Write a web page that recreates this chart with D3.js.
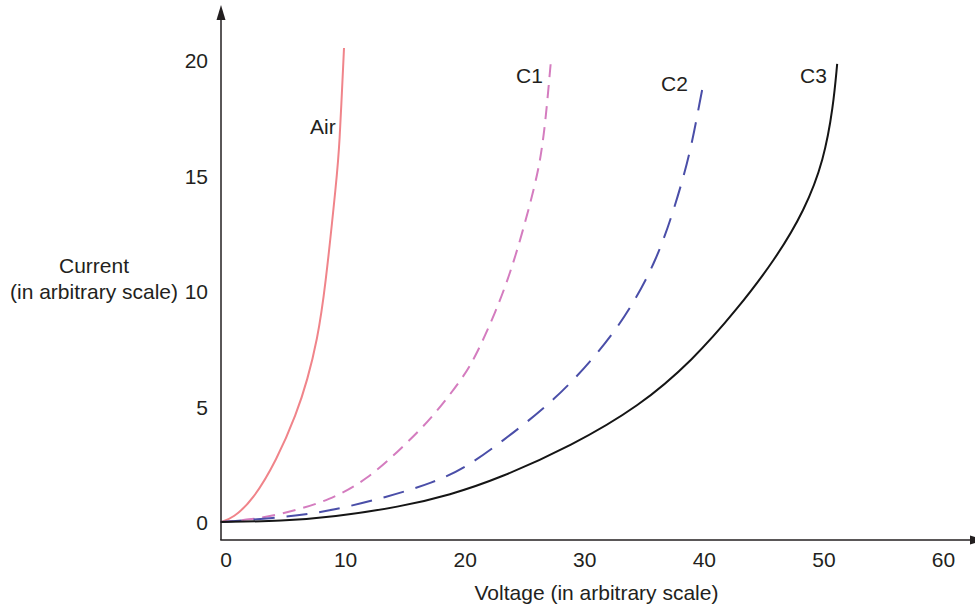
<!DOCTYPE html>
<html>
<head>
<meta charset="utf-8">
<script src="https://cdn.jsdelivr.net/npm/d3@7"></script>
<style>
  html, body { margin: 0; padding: 0; background: #fff; }
  svg { display: block; }
  text { font-family: "Liberation Sans", Arial, Helvetica, sans-serif; fill: #231f20; }
</style>
</head>
<body>
<svg id="chart" width="975" height="606"></svg>
<script>
// Current–voltage characteristics (arbitrary units)
const xTicks = [0, 10, 20, 30, 40, 50, 60];
const yTicks = [0, 5, 10, 15, 20];

const airVoltage = [-0.4, 0.63, 2.30, 4.28, 5.95, 6.85, 7.67, 8.32, 9.32, 9.51, 9.91];
const airCurrent = [0, 0.17, 0.95, 2.68, 4.7, 6.15, 7.88, 10.0, 15.0, 16.1, 20.52];

const c1Voltage = [-0.4, 2.05, 5.12, 8.74, 11.81, 14.84, 17.35, 19.7, 20.78, 22.68, 24.21, 26.02, 26.44, 26.77, 27.19];
const c1Current = [0, 0.09, 0.39, 0.95, 1.82, 3.25, 4.55, 6.15, 7.01, 9.18, 11.34, 14.81, 16.1, 17.4, 19.83];

const c2Voltage = [-0.4, 5.39, 8.99, 13.48, 17.35, 20.17, 22.95, 27.6, 31.4, 33.82, 36.05, 37.5, 38.84, 39.7, 40.05];
const c2Current = [0, 0.22, 0.5, 1.08, 1.69, 2.38, 3.42, 5.28, 7.45, 9.18, 11.34, 13.51, 15.9, 18.3, 19.2];

const c3Voltage = [-0.4, 4.81, 8.99, 14.59, 18.77, 22.95, 28.94, 34.6, 39.09, 42.74, 45.94, 48.45, 50.04, 50.82, 51.15];
const c3Current = [0, 0.04, 0.22, 0.65, 1.17, 1.90, 3.3, 5.0, 7.01, 9.18, 11.34, 13.51, 15.67, 17.98, 19.83];

const seriesNames = ["Air", "C1", "C2", "C3"];

const series = [
  { name: seriesNames[0], v: airVoltage, c: airCurrent, color: "#f0848a", dash: null, label: [310, 134] },
  { name: seriesNames[1], v: c1Voltage, c: c1Current, color: "#d47cbf", dash: "13 8", label: [516, 83] },
  { name: seriesNames[2], v: c2Voltage, c: c2Current, color: "#4a4ea8", dash: "21 12", label: [661, 91] },
  { name: seriesNames[3], v: c3Voltage, c: c3Current, color: "#151515", dash: null, label: [800, 83] }
];

const svg = d3.select("#chart");
const ink = "#231f20";
const fontSize = 21;

const x = d3.scaleLinear().domain([0, 60]).range([225.5, 943]);
const y = d3.scaleLinear().domain([0, 20]).range([522, 60]);

const axisX = 221;   // position of the vertical axis line
const axisY = 540;   // position of the horizontal axis line

// Tick labels through d3 axes (no tick marks, no domain path)
const gx = svg.append("g")
  .attr("transform", `translate(0,${axisY})`)
  .call(d3.axisBottom(x).tickValues(xTicks).tickSize(0).tickPadding(12).tickFormat(d3.format("d")));
gx.select(".domain").remove();
gx.selectAll("text").attr("font-size", fontSize).attr("fill", ink)
  .style("font-family", "'Liberation Sans', Arial, sans-serif");

const gy = svg.append("g")
  .attr("transform", `translate(${axisX},0)`)
  .call(d3.axisLeft(y).tickValues(yTicks).tickSize(0).tickPadding(13).tickFormat(d3.format("d")));
gy.select(".domain").remove();
gy.selectAll("text").attr("font-size", fontSize).attr("fill", ink).attr("dy", "0.36em")
  .style("font-family", "'Liberation Sans', Arial, sans-serif");

// Curves (smoothed B-spline through the read-off points)
const line = d3.line()
  .x(d => x(d[0]))
  .y(d => y(d[1]))
  .curve(d3.curveBasis);

svg.append("g")
  .selectAll("path")
  .data(series)
  .join("path")
  .attr("d", s => line(s.v.map((v, i) => [v, s.c[i]])))
  .attr("fill", "none")
  .attr("stroke", s => s.color)
  .attr("stroke-width", 2)
  .attr("stroke-dasharray", s => s.dash)
  .attr("stroke-linecap", "butt");

// Curve names
svg.append("g")
  .selectAll("text")
  .data(series)
  .join("text")
  .attr("x", s => s.label[0])
  .attr("y", s => s.label[1])
  .attr("font-size", fontSize)
  .text(s => s.name);

// Axis lines with arrowheads
svg.append("line")
  .attr("x1", axisX).attr("y1", axisY)
  .attr("x2", axisX).attr("y2", 14)
  .attr("stroke", ink).attr("stroke-width", 1.5);
svg.append("path")
  .attr("d", `M${axisX},5 L${axisX - 4.5},20 L${axisX + 4.5},20 Z`)
  .attr("fill", ink);

svg.append("line")
  .attr("x1", axisX - 0.75).attr("y1", axisY)
  .attr("x2", 975).attr("y2", axisY)
  .attr("stroke", ink).attr("stroke-width", 1.5);
svg.append("path")
  .attr("d", `M985,${axisY} L970,${axisY - 4.5} L970,${axisY + 4.5} Z`)
  .attr("fill", ink);

// Axis titles
svg.append("text")
  .attr("x", 596.5).attr("y", 600)
  .attr("text-anchor", "middle")
  .attr("font-size", fontSize)
  .text("Voltage (in arbitrary scale)");

const yTitle = svg.append("text")
  .attr("text-anchor", "middle")
  .attr("font-size", fontSize);
yTitle.append("tspan").attr("x", 94).attr("y", 273).text("Current");
yTitle.append("tspan").attr("x", 94).attr("y", y(10) + 7.5).text("(in arbitrary scale)");
</script>
</body>
</html>
